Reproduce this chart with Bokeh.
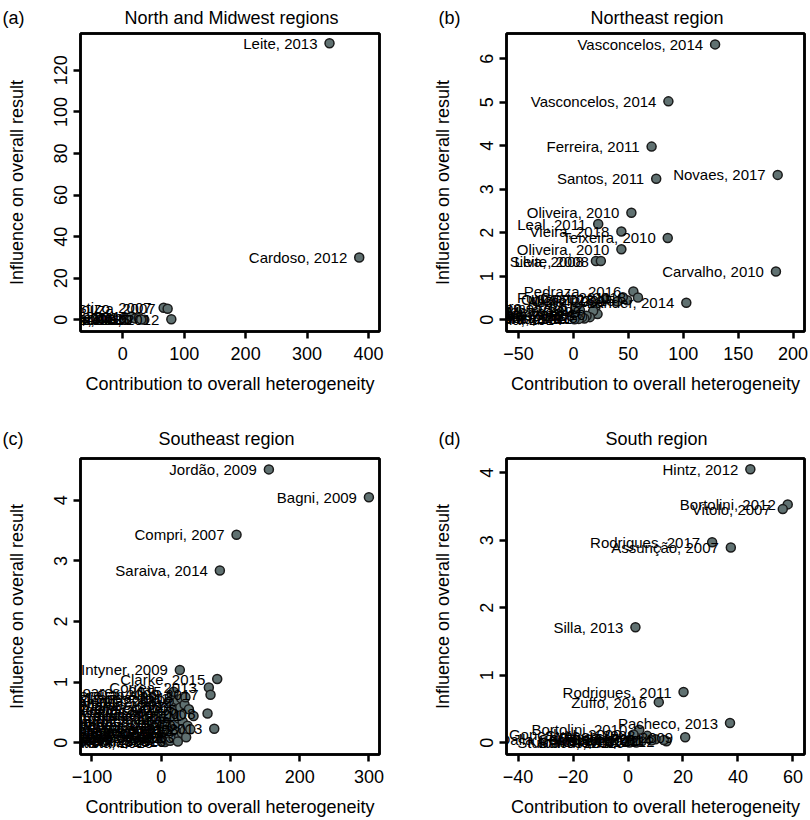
from bokeh.plotting import figure
from bokeh.layouts import gridplot
from bokeh.models import ColumnDataSource, Range1d, FixedTicker, LinearAxis
from bokeh.embed import file_html
from bokeh.resources import INLINE
from bokeh.core.properties import value

FONT = "Liberation Sans"
X_TITLE = "Contribution to overall heterogeneity"
Y_TITLE = "Influence on overall result"
NB = "\u00a0"

# ---------------- Panel (a): North and Midwest regions ----------------
a_study = ["Leite, 2013", "Cardoso, 2012", "Castizo, 2007", "Souza, 2007", "Ferreira, 2012",
           "Oliveira, 2010", "Silva, 2009", "Santos, 2011", "Lima, 2008", "Costa, 2014",
           "Alves, 2012", "Rocha, 2016", "Pereira, 2015"]
a_x = [336.6, 385.0, 66.5, 73.0, 79.0, 35.0, 2.0, 5.5, 9.0, 14.0, 20.0, 26.0, 30.0]
a_y = [133.0, 30.0, 5.8, 5.3, 0.3, 0.1, 0.2, 1.0, 0.4, 1.6, 0.6, 0.9, 0.2]
a_xticks = [0, 100, 200, 300, 400]
a_yticks = [0, 20, 40, 60, 80, 100, 120]

# ---------------- Panel (b): Northeast region ----------------
b_study = ["Vasconcelos, 2014", "Vasconcelos, 2014", "Ferreira, 2011", "Santos, 2011", "Novaes, 2017",
           "Oliveira, 2010", "Leal, 2011", "Vieira, 2018", "Teixeira, 2010", "Oliveira, 2010",
           "Silva, 2008", "Leite, 2008", "Carvalho, 2010", "Pedraza, 2016", "Lander, 2014",
           "Castro, 2018", "Miglioli, 2015", "Fujimori, 2011", "Assis, 2009", "Cruz, 2013",
           "Gomes, 2012", "Araújo, 2010", "Melo, 2009", "Souza, 2015", "Barros, 2013",
           "Pinto, 2011", "Nunes, 2017", "Moura, 2016", "Lira, 2012", "Rocha, 2014",
           "Dias, 2008", "Freitas, 2010", "Monteiro, 2013"]
b_x = [129.0, 86.5, 71.2, 75.4, 186.0, 52.8, 22.6, 43.7, 85.9, 43.7,
       20.5, 25.0, 184.4, 54.6, 102.8, 58.8, 49.0, 45.0, 40.0, 30.0,
       20.0, 22.0, 18.0, 15.0, 12.0, 10.0, 8.0, 5.0, 3.0, 1.0,
       0.5, 6.0, 2.0]
b_y = [6.33, 5.02, 3.98, 3.24, 3.33, 2.46, 2.20, 2.03, 1.88, 1.62,
       1.35, 1.35, 1.11, 0.65, 0.39, 0.51, 0.45, 0.52, 0.42, 0.47,
       0.28, 0.13, 0.20, 0.06, 0.09, 0.03, 0.06, 0.02, 0.10, 0.01,
       0.15, 0.22, 0.30]
b_xticks = [-50, 0, 50, 100, 150, 200]
b_yticks = [0, 1, 2, 3, 4, 5, 6]

# ---------------- Panel (c): Southeast region ----------------
c_study = ["Jordão, 2009", "Bagni, 2009", "Compri, 2007", "Saraiva, 2014", "McIntyner, 2009",
           "Clarke, 2015", "Correa, 2013", "Carvalho, 2017", "Castro, 2008", "Cunha, 2013",
           "Abreu, 2010", "Alves, 2012", "Andrade, 2008", "Barbosa, 2011", "Batista, 2015",
           "Borges, 2009", "Braga, 2013", "Campos, 2014", "Cardoso, 2016", "Castro, 2010",
           "Cavalcanti, 2012", "Costa, 2007", "Cruz, 2018", "Dias, 2011", "Duarte, 2009",
           "Fernandes, 2014", "Fonseca, 2013", "Freitas, 2012", "Garcia, 2010", "Gomes, 2015",
           "Guimarães, 2008", "Lima, 2016", "Lopes, 2011", "Machado, 2017", "Marques, 2009",
           "Martins, 2014", "Mendes, 2012", "Miranda, 2013", "Moreira, 2010", "Nogueira, 2015",
           "Nunes, 2011", "Pereira, 2009", "Ramos, 2016", "Reis, 2012", "Ribeiro, 2014",
           "Rocha, 2010", "Santos, 2013", "Silva, 2008", "Soares, 2015", "Teixeira, 2011"]
c_x = [155.5, 300.0, 108.8, 84.7, 26.9, 80.9, 68.8, 71.2, 66.9, 76.6,
       0.5, 1.5, 3.0, 4.0, 5.5, 6.7, 8.0, 9.0, 10.5, 12.0,
       13.0, 14.5, 16.0, 17.8, 19.0, 19.6, 20.0, 22.0, 23.0, 25.0,
       26.0, 27.5, 29.0, 29.8, 31.0, 33.7, 33.7, 35.0, 38.0, 40.0,
       46.7, 15.0, 11.0, 7.0, 2.0, 24.0, 36.0, 42.0, 18.0, 28.0]
c_y = [4.51, 4.05, 3.43, 2.84, 1.20, 1.05, 0.91, 0.79, 0.48, 0.23,
       0.02, 0.10, 0.05, 0.20, 0.01, 0.05, 0.30, 0.12, 0.15, 0.40,
       0.03, 0.55, 0.25, 0.08, 0.62, 0.30, 0.52, 0.18, 0.70, 0.40,
       0.10, 0.58, 0.73, 0.16, 0.35, 0.63, 0.20, 0.75, 0.28, 0.55,
       0.44, 0.80, 0.68, 0.45, 0.35, 0.02, 0.09, 0.22, 0.84, 0.45]
c_xticks = [-100, 0, 100, 200, 300]
c_yticks = [0, 1, 2, 3, 4]

# ---------------- Panel (d): South region ----------------
d_study = ["Hintz, 2012", "Bortolini, 2012", "Vitolo, 2007", "Rodrigues, 2017", "Assunção, 2007",
           "Silla, 2013", "Rodrigues, 2011", "Zuffo, 2016", "Pacheco, 2013", "Bortolini, 2010",
           "Cembranel, 2009", "Chaves, 2012", "Costa, 2014", "Schmidt, 2011", "Ströher, 2008",
           "Kaminski, 2010", "Barros, 2015", "Dalla Costa, 2013", "Stulbach, 2016", "Gonçalves, 2009",
           "Weber, 2012"]
d_x = [44.5, 58.1, 56.3, 30.6, 37.4, 2.7, 20.2, 11.2, 37.1, 4.1,
       20.8, 14.0, 13.0, 10.0, 7.0, 5.0, 3.0, 1.0, 0.5, 2.0, 8.5]
d_y = [4.05, 3.53, 3.46, 2.97, 2.89, 1.71, 0.75, 0.60, 0.29, 0.19,
       0.08, 0.02, 0.04, 0.05, 0.10, 0.02, 0.00, 0.05, 0.00, 0.12, 0.03]
d_xticks = [-40, -20, 0, 20, 40, 60]
d_yticks = [0, 1, 2, 3, 4]

FH = 299
LW = 2.5


def fmt(v):
    return ("\u2212" + str(-v)) if v < 0 else str(v)


def style_axis(ax):
    ax.axis_line_color = "black"
    ax.axis_line_width = LW
    ax.axis_line_dash = "solid"
    ax.major_tick_line_color = "black"
    ax.major_tick_line_width = LW
    ax.major_tick_line_dash = "solid"
    ax.major_tick_out = 7
    ax.major_tick_in = 0
    ax.minor_tick_line_color = None
    ax.major_label_text_font = FONT
    ax.major_label_text_font_size = "18px"
    ax.major_label_text_color = "black"
    ax.axis_label_text_font = FONT
    ax.axis_label_text_font_size = "18px"
    ax.axis_label_text_font_style = "normal"
    ax.axis_label_text_color = "black"


def box_axis():
    return LinearAxis(ticker=FixedTicker(ticks=[]), axis_line_color="black",
                      axis_line_width=LW, axis_line_dash="solid",
                      major_tick_line_color=None, minor_tick_line_color=None,
                      major_tick_out=0, major_tick_in=0, minor_tick_out=0, minor_tick_in=0,
                      major_label_standoff=0, major_label_text_font_size="0px")


def panel(letter, gap, title, study, xs, ys, xr, yr, xt, yt, bl, br, bt, bb, fw,
          title_standoff):
    p = figure(width=bl + fw + br, height=bt + FH + bb,
               x_range=Range1d(*xr), y_range=Range1d(*yr),
               output_backend="svg", toolbar_location=None,
               min_border_left=bl, min_border_right=br,
               min_border_top=bt, min_border_bottom=bb)
    p.xgrid.visible = False
    p.ygrid.visible = False
    p.outline_line_color = "black"
    p.outline_line_width = LW
    p.background_fill_color = "white"
    p.border_fill_color = "white"

    p.xaxis.ticker = FixedTicker(ticks=xt)
    p.yaxis.ticker = FixedTicker(ticks=yt)
    p.xaxis.major_label_overrides = {v: fmt(v) for v in xt}
    p.yaxis.major_label_overrides = {v: fmt(v) for v in yt}
    style_axis(p.xaxis[0])
    style_axis(p.yaxis[0])
    p.xaxis.axis_label = X_TITLE
    p.yaxis.axis_label = Y_TITLE
    p.xaxis.major_label_standoff = 8
    p.xaxis.axis_label_standoff = 11
    p.yaxis.major_label_standoff = 6
    p.yaxis.axis_label_standoff = 25
    p.yaxis.major_label_orientation = "vertical"
    p.add_layout(box_axis(), "right")
    p.add_layout(box_axis(), "above")

    src = ColumnDataSource(dict(x=xs, y=ys, name=study))
    p.scatter("x", "y", source=src, size=9, fill_color="#607171",
              line_color="#1a1a1a", line_width=1.5)
    p.text("x", "y", text="name", source=src, text_align="right",
           text_baseline="middle", x_offset=-12, text_font=value(FONT),
           text_font_size="15px", text_color="black")

    p.title.text = letter + NB * gap + title
    p.title.align = "left"
    p.title.vertical_align = "bottom"
    p.title.offset = -bl + (2 if bl < 90 else 33)
    p.title.text_font = FONT
    p.title.text_font_size = "18px"
    p.title.text_font_style = "normal"
    p.title.text_color = "black"
    p.title.standoff = title_standoff
    return p


pa = panel("(a)", 20, "North and Midwest regions", a_study, a_x, a_y,
           (-68.9, 418.0), (-5.6, 137.7), a_xticks, a_yticks,
           80, 26, 32, 79, 299, 11)
pb = panel("(b)", 26, "Northeast region", b_study, b_x, b_y,
           (-60.9, 210.4), (-0.27, 6.58), b_xticks, b_yticks,
           101, 5, 32, 79, 298, 11)
pc = panel("(c)", 27, "Southeast region", c_study, c_x, c_y,
           (-116.6, 315.3), (-0.196, 4.69), c_xticks, c_yticks,
           80, 26, 48, 62, 299, 19)
pd = panel("(d)", 29, "South region", d_study, d_x, d_y,
           (-44.2, 64.2), (-0.176, 4.21), d_xticks, d_yticks,
           101, 5, 48, 62, 298, 19)

grid = gridplot([[pa, pb], [pc, pd]], toolbar_location=None)

open("out.html", "w").write(file_html(grid, INLINE))
